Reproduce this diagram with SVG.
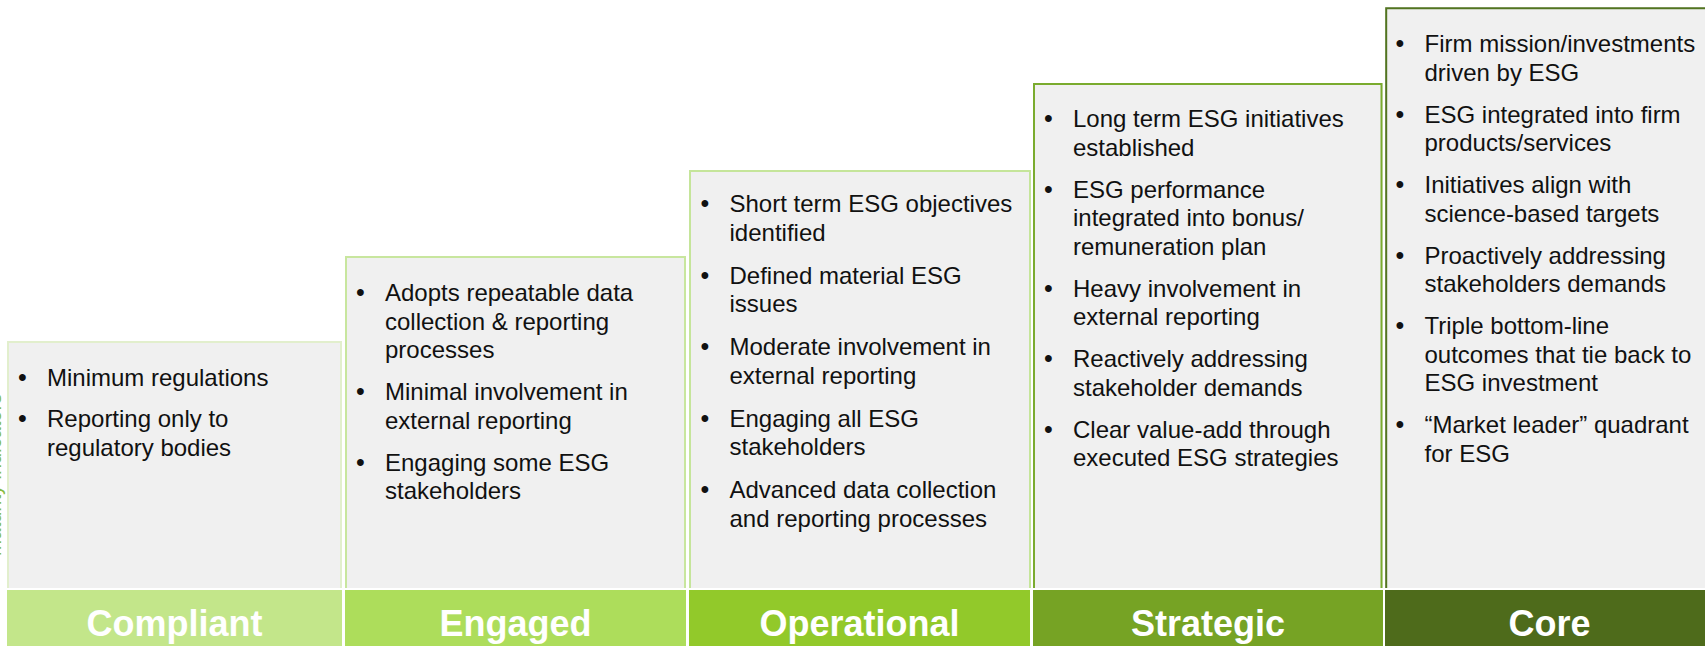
<svg xmlns="http://www.w3.org/2000/svg" width="1705" height="646" viewBox="0 0 1705 646">
<style>
  .box{fill:#f0f0f0}
  .t{font-family:"Liberation Sans",Arial,sans-serif;font-size:24px;fill:#111}
  .b{font-family:"Liberation Sans",Arial,sans-serif;font-size:25px;fill:#111}
  .lbl{font-family:"Liberation Sans",Arial,sans-serif;font-size:36px;font-weight:bold;fill:#fff;text-anchor:middle}
  .edge{fill:none;stroke-width:2}
  .side{font-family:"Liberation Sans",Arial,sans-serif;font-size:20px;fill:#86bb3f;text-anchor:middle}
</style>
<rect width="1705" height="646" fill="#fff"/>
<text class="side" transform="translate(1,475) rotate(-90)">Maturity indicators</text>

<g id="compliant">
  <rect class="box" x="7" y="341" width="335" height="247"/>
  <path class="edge" stroke="#e2efcd" d="M8,588 V342 H341 V588"/>
  <text class="b" x="18" y="386">•</text><text class="t" x="47" y="386">Minimum regulations</text>
  <text class="b" x="18" y="427">•</text><text class="t" x="47" y="427">Reporting only to</text>
  <text class="t" x="47" y="455.5">regulatory bodies</text>
  <rect x="7" y="590" width="335" height="56" fill="#c3e68a"/>
  <text class="lbl" x="174.5" y="636">Compliant</text>
</g>

<g id="engaged">
  <rect class="box" x="345" y="256" width="341" height="332"/>
  <path class="edge" stroke="#c8e69e" d="M346,588 V257 H685 V588"/>
  <text class="b" x="356" y="301">•</text><text class="t" x="385" y="301">Adopts repeatable data</text>
  <text class="t" x="385" y="329.5">collection &amp; reporting</text>
  <text class="t" x="385" y="358">processes</text>
  <text class="b" x="356" y="400">•</text><text class="t" x="385" y="400">Minimal involvement in</text>
  <text class="t" x="385" y="428.5">external reporting</text>
  <text class="b" x="356" y="470.5">•</text><text class="t" x="385" y="470.5">Engaging some ESG</text>
  <text class="t" x="385" y="499">stakeholders</text>
  <rect x="345" y="590" width="341" height="56" fill="#addd5b"/>
  <text class="lbl" x="515.5" y="636">Engaged</text>
</g>

<g id="operational">
  <rect class="box" x="689" y="170" width="342" height="418"/>
  <path class="edge" stroke="#c5e59a" d="M690,588 V171 H1030 V588"/>
  <text class="b" x="700.5" y="212">•</text><text class="t" x="729.5" y="212">Short term ESG objectives</text>
  <text class="t" x="729.5" y="240.5">identified</text>
  <text class="b" x="700.5" y="283.5">•</text><text class="t" x="729.5" y="283.5">Defined material ESG</text>
  <text class="t" x="729.5" y="312">issues</text>
  <text class="b" x="700.5" y="355">•</text><text class="t" x="729.5" y="355">Moderate involvement in</text>
  <text class="t" x="729.5" y="383.5">external reporting</text>
  <text class="b" x="700.5" y="426.5">•</text><text class="t" x="729.5" y="426.5">Engaging all ESG</text>
  <text class="t" x="729.5" y="455">stakeholders</text>
  <text class="b" x="700.5" y="498">•</text><text class="t" x="729.5" y="498">Advanced data collection</text>
  <text class="t" x="729.5" y="526.5">and reporting processes</text>
  <rect x="689" y="590" width="341" height="56" fill="#92c92a"/>
  <text class="lbl" x="859.5" y="636">Operational</text>
</g>

<g id="strategic">
  <rect class="box" x="1033" y="83" width="350" height="505"/>
  <path class="edge" stroke="#7aab2e" d="M1034,588 V84 H1381.5 V588"/>
  <text class="b" x="1044" y="127">•</text><text class="t" x="1073" y="127">Long term ESG initiatives</text>
  <text class="t" x="1073" y="155.5">established</text>
  <text class="b" x="1044" y="197.5">•</text><text class="t" x="1073" y="197.5">ESG performance</text>
  <text class="t" x="1073" y="226">integrated into bonus/</text>
  <text class="t" x="1073" y="254.5">remuneration plan</text>
  <text class="b" x="1044" y="296.5">•</text><text class="t" x="1073" y="296.5">Heavy involvement in</text>
  <text class="t" x="1073" y="325">external reporting</text>
  <text class="b" x="1044" y="367">•</text><text class="t" x="1073" y="367">Reactively addressing</text>
  <text class="t" x="1073" y="395.5">stakeholder demands</text>
  <text class="b" x="1044" y="437.5">•</text><text class="t" x="1073" y="437.5">Clear value-add through</text>
  <text class="t" x="1073" y="466">executed ESG strategies</text>
  <rect x="1033" y="590" width="350" height="56" fill="#76a324"/>
  <text class="lbl" x="1208" y="636">Strategic</text>
</g>

<g id="core">
  <rect class="box" x="1385" y="7" width="330" height="581"/>
  <path class="edge" stroke="#527420" stroke-width="2.5" d="M1386.2,588 V8.2 H1715"/>
  <text class="b" x="1395.5" y="52">•</text><text class="t" x="1424.5" y="52">Firm mission/investments</text>
  <text class="t" x="1424.5" y="80.5">driven by ESG</text>
  <text class="b" x="1395.5" y="122.5">•</text><text class="t" x="1424.5" y="122.5">ESG integrated into firm</text>
  <text class="t" x="1424.5" y="151">products/services</text>
  <text class="b" x="1395.5" y="193">•</text><text class="t" x="1424.5" y="193">Initiatives align with</text>
  <text class="t" x="1424.5" y="221.5">science-based targets</text>
  <text class="b" x="1395.5" y="263.5">•</text><text class="t" x="1424.5" y="263.5">Proactively addressing</text>
  <text class="t" x="1424.5" y="292">stakeholders demands</text>
  <text class="b" x="1395.5" y="334">•</text><text class="t" x="1424.5" y="334">Triple bottom-line</text>
  <text class="t" x="1424.5" y="362.5">outcomes that tie back to</text>
  <text class="t" x="1424.5" y="391">ESG investment</text>
  <text class="b" x="1395.5" y="433">•</text><text class="t" x="1424.5" y="433">“Market leader” quadrant</text>
  <text class="t" x="1424.5" y="461.5">for ESG</text>
  <rect x="1385" y="590" width="330" height="56" fill="#4e6b1b"/>
  <text class="lbl" x="1549.5" y="636">Core</text>
</g>

<g id="connectors"></g>
</svg>
